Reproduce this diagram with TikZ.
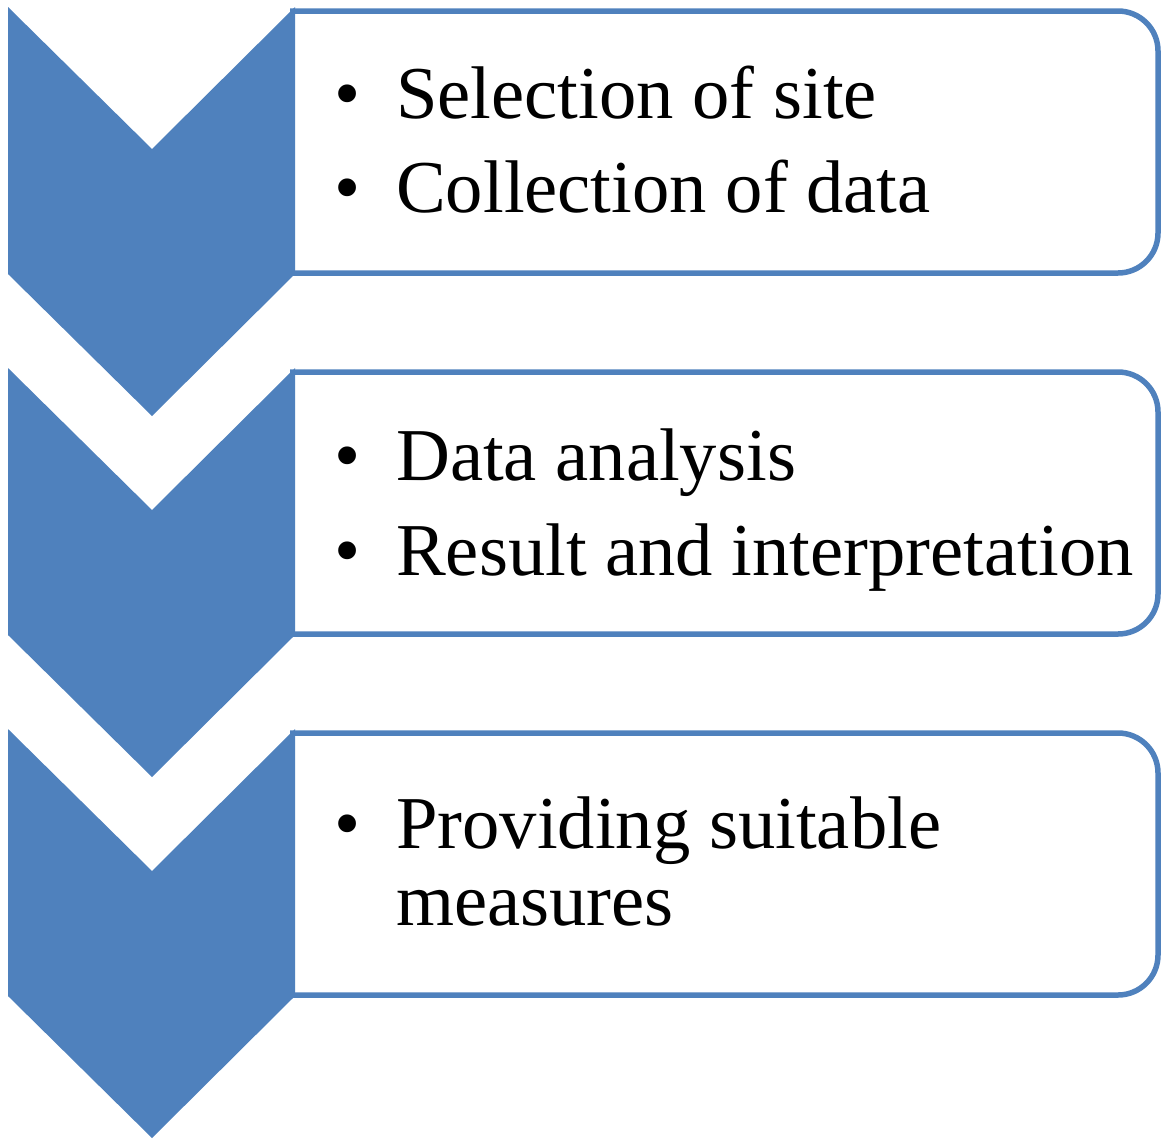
\documentclass[tikz,border=0pt]{standalone}
\usepackage{fontspec}
\setmainfont{Liberation Serif}
\usepackage{xcolor}
\usetikzlibrary{positioning}
\definecolor{chevblue}{HTML}{4F81BD}

\begin{document}
\begin{tikzpicture}[x=1pt,y=-1pt]
        \tikzset{chevron/.style = {fill=chevblue}}
        \tikzset{stepframe/.style = {draw=chevblue, line width=5.5pt, fill=white}}
        \tikzset{itemtext/.style = {anchor=base west, inner sep=0pt, font=\fontsize{74.6}{77}\selectfont}}
        \tikzset{itembullet/.style = {anchor=base, inner sep=0pt, font=\fontsize{74.6}{77}\selectfont}}

        \useasboundingbox (0,0) rectangle (1166,1141);

        % frames and chevrons
        \foreach \t in {7,368,729} {
                \draw[stepframe] (290,\t+4) [rounded corners=40pt] -- (1158,\t+4) -- (1158,\t+266) [sharp corners] -- (290,\t+266);
                \fill[chevron] (8,\t) -- (152,\t+142) -- (295,\t) -- (295,\t+267) -- (152,\t+409) -- (8,\t+267) -- cycle;
        }

        % first step
        \node[itemtext] (site) at (396,118) {Selection of site};
        \node[itemtext] (collect) at (396,212) {Collection of data};

        % second step
        \node[itemtext] (analysis) at (396,480) {Data analysis};
        \node[itemtext] (result) at (396,575) {Result and interpretation};

        % third step
        \node[itemtext] (provide) at (396,848) {Providing suitable};
        \node[itemtext] (measures) at (396,925) {measures};

        % bullets
        \node[itembullet] (b1) at ([xshift=-48pt]site.base west) {\textbullet};
        \node[itembullet] (b2) at ([xshift=-48pt]collect.base west) {\textbullet};
        \node[itembullet] (b3) at ([xshift=-48pt]analysis.base west) {\textbullet};
        \node[itembullet] (b4) at ([xshift=-48pt]result.base west) {\textbullet};
        \node[itembullet] (b5) at ([xshift=-48pt]provide.base west) {\textbullet};
\end{tikzpicture}
\end{document}
